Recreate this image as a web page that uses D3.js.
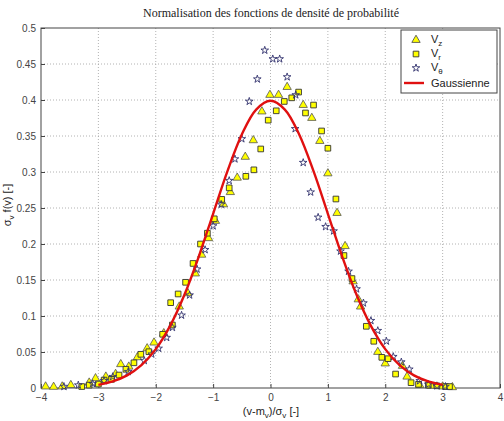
<!DOCTYPE html>
<html><head><meta charset="utf-8">
<script src="https://cdn.jsdelivr.net/npm/d3@7"></script>
<style>body{margin:0;background:#fff}svg{display:block}</style>
</head><body>
<script>
// ---- data ----
const vzX = [-3.92,-3.78,-3.63,-3.48,-3.16,-3.05,-2.87,-2.70,-2.61,-2.47,-2.32,-2.15,-2.03,-1.86,-1.59,-1.44,-1.31,-1.20,-1.08,-0.96,-0.82,-0.70,-0.58,-0.44,-0.30,-0.15,-0.01,0.14,0.29,0.57,0.72,0.86,1.00,1.16,1.30,1.44,1.53,1.57,1.87,2.00,2.30,2.38,2.60,2.80,3.00,3.17];
const vzY = [0.002,0.0015,0.002,0.004,0.0074,0.0134,0.0157,0.0194,0.033,0.0296,0.0426,0.055,0.063,0.076,0.113,0.1315,0.159,0.185,0.208,0.232,0.255,0.272,0.292,0.321,0.344,0.384,0.407,0.407,0.418,0.393,0.375,0.343,0.298,0.243,0.197,0.148,0.123,0.113,0.050,0.034,0.0306,0.0157,0.004,0.003,0.002,0.001];

const vrX = [-3.29,-3.16,-3.00,-2.90,-2.77,-2.64,-2.52,-2.38,-2.26,-2.12,-1.88,-1.74,-1.71,-1.61,-1.48,-1.35,-1.22,-1.10,-0.98,-0.85,-0.72,-0.43,-0.29,-0.17,-0.04,0.10,0.24,0.37,0.49,0.61,0.75,0.89,1.00,1.14,1.28,1.42,1.67,1.80,1.94,2.05,2.18,2.45,2.58,2.75,2.90,3.05,3.12];
const vrY = [0.002,0.004,0.0055,0.011,0.012,0.018,0.026,0.035,0.0468,0.0504,0.0746,0.1185,0.0875,0.1306,0.1468,0.173,0.200,0.215,0.235,0.262,0.278,0.294,0.303,0.332,0.372,0.385,0.398,0.403,0.411,0.382,0.393,0.357,0.333,0.2625,0.184,0.152,0.0857,0.0649,0.0426,0.0407,0.0194,0.0074,0.0051,0.004,0.003,0.002,0.002];

const vtX = [-3.60,-3.35,-3.10,-2.90,-2.75,-2.48,-2.20,-2.07,-1.95,-1.81,-1.71,-1.55,-1.41,-1.28,-1.14,-1.00,-0.86,-0.72,-0.62,-0.50,-0.37,-0.23,-0.10,0.04,0.16,0.29,0.44,0.43,0.57,0.70,0.83,0.96,1.10,1.22,1.36,1.50,1.62,1.75,1.87,2.02,2.14,2.28,2.42,2.60,2.75,2.90,3.05];
const vtY = [0.002,0.004,0.006,0.010,0.0157,0.0227,0.038,0.047,0.055,0.070,0.084,0.101,0.129,0.165,0.192,0.225,0.255,0.288,0.318,0.346,0.398,0.429,0.469,0.457,0.457,0.432,0.407,0.360,0.313,0.272,0.237,0.224,0.218,0.190,0.162,0.1375,0.118,0.0935,0.0796,0.065,0.0435,0.036,0.026,0.010,0.005,0.003,0.002];

const gaussX = [-3.0,-2.75,-2.5,-2.25,-2.0,-1.75,-1.5,-1.25,-1.0,-0.75,-0.5,-0.25,0,0.25,0.5,0.75,1.0,1.25,1.5,1.75,2.0,2.25,2.5,2.75,3.0];
const gaussY = [0.0044,0.0091,0.0175,0.0317,0.054,0.0863,0.1295,0.1826,0.242,0.3011,0.3521,0.3867,0.3989,0.3867,0.3521,0.3011,0.242,0.1826,0.1295,0.0863,0.054,0.0317,0.0175,0.0091,0.0044];

const xTicks = [-4,-3,-2,-1,0,1,2,3,4];
const yTicks = [0,0.05,0.1,0.15,0.2,0.25,0.3,0.35,0.4,0.45,0.5];
const yTickLabels = ["0","0.05","0.1","0.15","0.2","0.25","0.3","0.35","0.4","0.45","0.5"];
const legendLabels = ["z","r","θ"];

// ---- layout ----
const W = 504, H = 421;
const L = 41, R = 500, T = 28, B = 388;
const svg = d3.select("body").append("svg").attr("width", W).attr("height", H);

const x = d3.scaleLinear().domain([-4,4]).range([L,R]);
const y = d3.scaleLinear().domain([0,0.5]).range([B,T]);

// grid
const g = svg.append("g");
g.selectAll(".gx").data(xTicks.slice(1,-1)).join("line")
  .attr("x1", d=>x(d)).attr("x2", d=>x(d)).attr("y1", T).attr("y2", B)
  .attr("stroke", "#a0a0a0").attr("stroke-width", 0.8).attr("stroke-dasharray", "1,2");
g.selectAll(".gy").data(yTicks.slice(1,-1)).join("line")
  .attr("y1", d=>y(d)).attr("y2", d=>y(d)).attr("x1", L).attr("x2", R)
  .attr("stroke", "#a0a0a0").attr("stroke-width", 0.8).attr("stroke-dasharray", "1,2");

// box
svg.append("rect").attr("x", L).attr("y", T).attr("width", R-L).attr("height", B-T)
  .attr("fill", "none").attr("stroke", "#444").attr("stroke-width", 1);

// axes
const xAxis = d3.axisBottom(x).tickValues(xTicks).tickSize(-4).tickPadding(6).tickFormat(d3.format("d"));
const ax = svg.append("g").attr("transform", `translate(0,${B})`).call(xAxis);
const yAxis = d3.axisLeft(y).tickValues(yTicks).tickSize(-4).tickPadding(5).tickFormat((d,i)=>yTickLabels[i]);
const ay = svg.append("g").attr("transform", `translate(${L},0)`).call(yAxis);
[ax, ay].forEach(a => {
  a.select(".domain").remove();
  a.selectAll(".tick line").attr("stroke", "#444");
  a.selectAll("text").attr("font-family", "'Liberation Sans', Arial, sans-serif").attr("font-size", 10).attr("fill", "#444");
});

// markers
const plot = svg.append("g");
const tri = d3.symbol().type(d3.symbolTriangle).size(30);
const sq = d3.symbol().type(d3.symbolSquare).size(32);
const star = d3.symbol().type(d3.symbolStar).size(18);

plot.selectAll(".vz").data(vzX.map((v,i)=>[v,vzY[i]])).join("path")
  .attr("d", tri).attr("transform", d=>`translate(${x(d[0])},${y(d[1])})`)
  .attr("fill", "#ffff00").attr("stroke", "#555555").attr("stroke-width", 0.8);
plot.selectAll(".vr").data(vrX.map((v,i)=>[v,vrY[i]])).join("path")
  .attr("d", sq).attr("transform", d=>`translate(${x(d[0])},${y(d[1])})`)
  .attr("fill", "#ffff00").attr("stroke", "#333333").attr("stroke-width", 0.9);
plot.selectAll(".vt").data(vtX.map((v,i)=>[v,vtY[i]])).join("path")
  .attr("d", star).attr("transform", d=>`translate(${x(d[0])},${y(d[1])})`)
  .attr("fill", "none").attr("stroke", "#33336e").attr("stroke-width", 0.9);

// gaussian
const line = d3.line().x(d=>x(d[0])).y(d=>y(d[1])).curve(d3.curveCatmullRom);
plot.append("path").datum(gaussX.map((v,i)=>[v,gaussY[i]]))
  .attr("d", line).attr("fill", "none").attr("stroke", "#e01010").attr("stroke-width", 2.4);

// title
svg.append("text").attr("x", 271).attr("y", 17).attr("text-anchor", "middle")
  .attr("font-family", "'Liberation Serif', 'Times New Roman', serif").attr("font-size", 12).attr("fill", "#222")
  .text("Normalisation des fonctions de densité de probabilité");

// x label
const xl = svg.append("text").attr("x", 271).attr("y", 415).attr("text-anchor", "middle")
  .attr("font-family", "'Liberation Sans', Arial, sans-serif").attr("font-size", 11).attr("fill", "#222");
xl.append("tspan").text("(v-m");
xl.append("tspan").attr("font-size", 8).attr("dy", 3).text("v");
xl.append("tspan").attr("dy", -3).text(")/σ");
xl.append("tspan").attr("font-size", 8).attr("dy", 3).text("v");
xl.append("tspan").attr("dy", -3).text(" [-]");

// y label
const yl = svg.append("text").attr("transform", "translate(11,205) rotate(-90)").attr("text-anchor", "middle")
  .attr("font-family", "'Liberation Sans', Arial, sans-serif").attr("font-size", 11).attr("fill", "#222");
yl.append("tspan").text("σ");
yl.append("tspan").attr("font-size", 8).attr("dy", 3).text("v");
yl.append("tspan").attr("dy", -3).text(" f(v) [-]");

// legend
const lg = svg.append("g");
lg.append("rect").attr("x", 401).attr("y", 30).attr("width", 96).attr("height", 63)
  .attr("fill", "#fff").attr("stroke", "#444").attr("stroke-width", 1);
const ly = [40, 54, 68, 83];
const lsym = [tri, sq, star];
const lfill = ["#ffff00", "#ffff00", "none"];
const lstroke = ["#555555", "#333333", "#33336e"];
legendLabels.forEach((s,i) => {
  lg.append("path").attr("d", lsym[i]).attr("transform", `translate(416,${ly[i]})`)
    .attr("fill", lfill[i]).attr("stroke", lstroke[i]).attr("stroke-width", 0.9);
  const t = lg.append("text").attr("x", 431).attr("y", ly[i]+3)
    .attr("font-family", "'Liberation Sans', Arial, sans-serif").attr("font-size", 11).attr("fill", "#222");
  t.append("tspan").text("V");
  t.append("tspan").attr("font-size", 8).attr("dy", 3).text(s);
});
lg.append("line").attr("x1", 404).attr("x2", 424).attr("y1", ly[3]).attr("y2", ly[3])
  .attr("stroke", "#e01010").attr("stroke-width", 2.4);
lg.append("text").attr("x", 431).attr("y", ly[3]+4)
  .attr("font-family", "'Liberation Sans', Arial, sans-serif").attr("font-size", 11).attr("fill", "#222")
  .text("Gaussienne");
</script>
</body></html>
